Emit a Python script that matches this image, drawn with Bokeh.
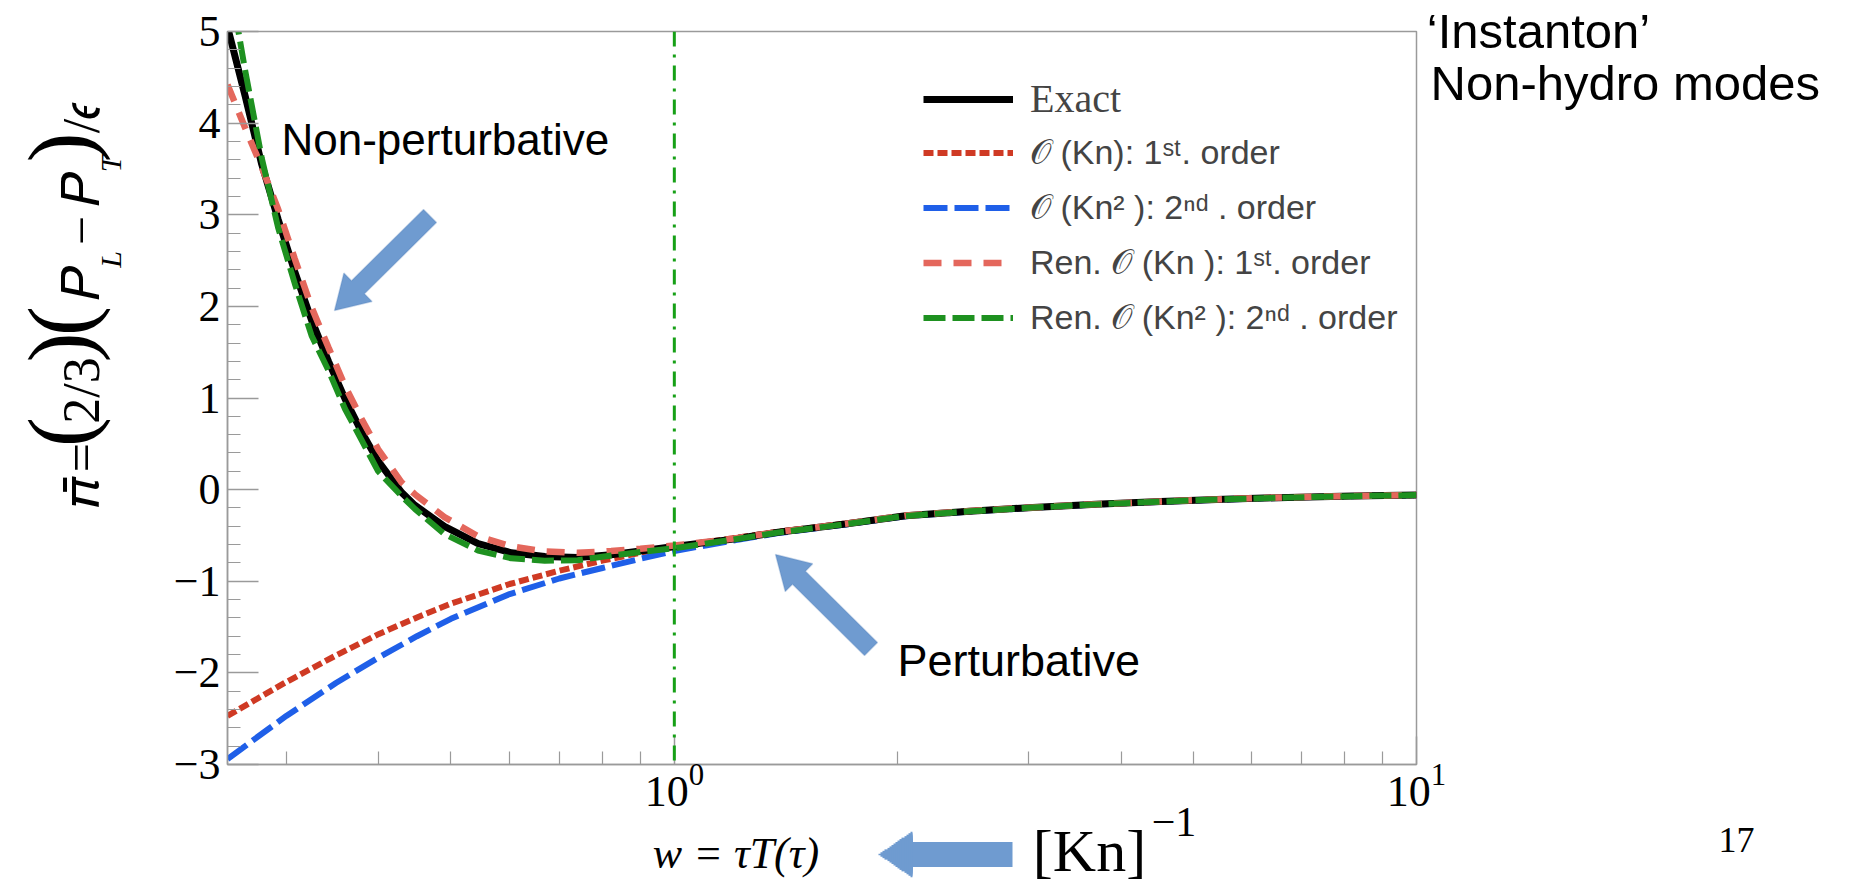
import math
from bokeh.plotting import figure
from bokeh.models import (Range1d, FixedTicker, Span, Label, Legend, LegendItem,
                          PolyAnnotation, LinearAxis, LinearScale)
from bokeh.embed import file_html
from bokeh.resources import INLINE

# ---------------- data ----------------
exact_w = [0.25, 0.264, 0.278, 0.2925, 0.308, 0.3245, 0.342, 0.36, 0.379, 0.399,
           0.429, 0.447, 0.49, 0.544, 0.603, 0.669, 0.741, 0.822, 0.9, 1.0,
           1.2, 1.38, 1.7, 2.05, 2.5, 3.04, 3.7, 4.52, 5.5, 6.71, 8.2, 10.0]
exact_pi = [5.05, 4.30, 3.55, 2.95, 2.38, 1.85, 1.40, 0.99, 0.63, 0.31,
            -0.03, -0.17, -0.40, -0.59, -0.69, -0.73, -0.74, -0.71, -0.67, -0.62,
            -0.54, -0.465, -0.375, -0.285, -0.235, -0.195, -0.16, -0.13, -0.105, -0.085, -0.07, -0.06]

first_w = [0.25, 0.3, 0.35, 0.4, 0.45, 0.5, 0.6, 0.7, 0.8, 0.9, 1.0,
           1.2, 1.38, 1.7, 2.05, 2.5, 3.04, 3.7, 4.52, 5.5, 6.71, 8.2, 10.0]
first_pi = [-2.47, -2.10, -1.81, -1.575, -1.395, -1.245, -1.03, -0.885, -0.775, -0.69, -0.625,
            -0.53, -0.46, -0.37, -0.285, -0.235, -0.195, -0.16, -0.13, -0.105, -0.085, -0.07, -0.06]

second_w = [0.25, 0.3, 0.35, 0.4, 0.45, 0.5, 0.6, 0.7, 0.8, 0.9, 1.0,
            1.2, 1.38, 1.7, 2.05, 2.5, 3.04, 3.7, 4.52, 5.5, 6.71, 8.2, 10.0]
second_pi = [-2.94, -2.47, -2.11, -1.83, -1.60, -1.41, -1.14, -0.97, -0.855, -0.755, -0.67,
             -0.555, -0.475, -0.38, -0.29, -0.24, -0.198, -0.163, -0.133, -0.108, -0.087, -0.072, -0.061]

ren1_w = [0.25, 0.264, 0.278, 0.2925, 0.308, 0.3245, 0.342, 0.36, 0.379, 0.399,
          0.429, 0.447, 0.49, 0.544, 0.603, 0.669, 0.741, 0.822, 0.9, 1.0,
          1.2, 1.38, 1.7, 2.05, 2.5, 3.04, 3.7, 4.52, 5.5, 6.71, 8.2, 10.0]
ren1_pi = [4.42, 3.95, 3.52, 3.06, 2.52, 1.99, 1.55, 1.13, 0.77, 0.44,
           0.08, -0.05, -0.30, -0.51, -0.62, -0.675, -0.69, -0.67, -0.645, -0.61,
           -0.535, -0.462, -0.372, -0.283, -0.234, -0.194, -0.159, -0.129, -0.104, -0.084, -0.069, -0.059]

ren2_w = [0.255, 0.2586, 0.264, 0.278, 0.2925, 0.308, 0.3245, 0.342, 0.36, 0.379, 0.399,
          0.429, 0.447, 0.49, 0.544, 0.603, 0.669, 0.741, 0.822, 0.9, 1.0,
          1.2, 1.38, 1.7, 2.05, 2.5, 3.04, 3.7, 4.52, 5.5, 6.71, 8.2, 10.0]
ren2_pi = [5.2, 5.0, 4.58, 3.62, 2.86, 2.25, 1.68, 1.30, 0.88, 0.54, 0.20,
           -0.07, -0.21, -0.485, -0.665, -0.75, -0.775, -0.77, -0.72, -0.68, -0.64,
           -0.545, -0.468, -0.377, -0.287, -0.237, -0.196, -0.161, -0.131, -0.106, -0.086, -0.071, -0.06]

legend_labels = ["Exact",
                 "𝒪 (Kn): 1ˢᵗ. order",
                 "𝒪 (Kn² ): 2ⁿᵈ . order",
                 "Ren. 𝒪 (Kn ): 1ˢᵗ. order",
                 "Ren. 𝒪 (Kn² ): 2ⁿᵈ . order"]

x_major = [1, 10]
x_minor = [0.3, 0.4, 0.5, 0.6, 0.7, 0.8, 0.9, 2, 3, 4, 5, 6, 7, 8, 9]
y_major = [-3, -2, -1, 0, 1, 2, 3, 4, 5]
y_minor = [round(i * 0.2, 1) for i in range(-15, 26) if i % 5 != 0]
y_labels = {v: ("−%d" % -v if v < 0 else "%d" % v) for v in y_major}

# ---------------- layout ----------------
W, H = 1855, 886
FL, FR, FT, FB = 227, 1416, 29, 762
GRAY = "#9a9a9a"
ARROW_FILL = "#6f9bd0"
NB = "\u00a0"

p = figure(frame_width=FR - FL, frame_height=FB - FT, x_axis_type="log",
           x_range=Range1d(0.25, 10), y_range=Range1d(-3, 5),
           output_backend="svg", toolbar_location=None,
           min_border_left=FL, min_border_right=W - FR,
           min_border_top=FT, min_border_bottom=H - FB)
p.xgrid.visible = False
p.ygrid.visible = False
p.outline_line_color = GRAY
p.outline_line_width = 1.5
p.background_fill_color = "white"
p.border_fill_color = "white"
# pixel-like helper ranges used to place the texts that sit outside the frame
p.extra_x_ranges = {"cx": Range1d(FL, FR)}
p.extra_y_ranges = {"cy": Range1d(FB, FT)}
p.extra_x_scales = {"cx": LinearScale()}
p.extra_y_scales = {"cy": LinearScale()}

xa = p.xaxis[0]
xa.ticker = FixedTicker(ticks=x_major, minor_ticks=x_minor)
ya = p.yaxis[0]
ya.ticker = FixedTicker(ticks=y_major, minor_ticks=y_minor)
ya.major_label_overrides = y_labels
for ax, mj in ((xa, 28), (ya, 31)):
    ax.axis_line_color = GRAY
    ax.axis_line_width = 1.5
    ax.major_tick_line_color = GRAY
    ax.minor_tick_line_color = GRAY
    ax.major_tick_line_width = 1.5
    ax.minor_tick_line_width = 1.2
    ax.major_tick_in = mj
    ax.major_tick_out = 0
    ax.minor_tick_in = 13
    ax.minor_tick_out = 0
    ax.major_label_text_font = "Liberation Serif"
    ax.major_label_text_font_size = "44px"
    ax.major_label_text_color = "black"
xa.major_label_standoff = 0
ya.major_label_standoff = 7

# ---------------- curves ----------------
r1 = p.line(first_w, first_pi, line_color="#cf3a24", line_width=6, line_dash="10 4")
r2 = p.line(second_w, second_pi, line_color="#1f5fe8", line_width=6, line_dash="24 7")
r0 = p.line(exact_w, exact_pi, line_color="black", line_width=7)
r3 = p.line(ren1_w, ren1_pi, line_color="#e4675c", line_width=6.5, line_dash="18 12")
r4 = p.line(ren2_w, ren2_pi, line_color="#1e9120", line_width=6, line_dash="22 7")

p.add_layout(Span(location=1, dimension="height", line_color="#16a016",
                  line_width=3, line_dash="15 8 3 8"))

# ---------------- legends ----------------
legA = Legend(items=[LegendItem(label=legend_labels[0], renderers=[r0])],
              location=(923 - FL, FB - 120), glyph_width=90, glyph_height=46,
              label_height=46, label_standoff=17, padding=0, margin=0, spacing=14,
              border_line_alpha=0, background_fill_alpha=0,
              label_text_font="Liberation Serif", label_text_font_size="40px")
legB = Legend(items=[LegendItem(label=legend_labels[i + 1], renderers=[r])
                     for i, r in enumerate([r1, r2, r3, r4])],
              location=(923 - FL, FB - 336), glyph_width=90, glyph_height=41,
              label_height=41, label_standoff=17, padding=0, margin=0, spacing=14,
              border_line_alpha=0, background_fill_alpha=0,
              label_text_font="Liberation Sans", label_text_font_size="34px")
p.add_layout(legA)
p.add_layout(legB)


# ---------------- texts inside the frame (positioned by their vertical centre) ----------------
def lab(text, X, Yc, size, font="Liberation Sans", style="normal"):
    p.add_layout(Label(x=X - FL, y=FB - Yc, x_units="screen", y_units="screen",
                       text=text, text_font=font, text_font_size="%dpx" % size,
                       text_font_style=style, text_color="black",
                       text_align="left", text_baseline="middle"))


lab("Non-perturbative", 281, 137, 44)
lab("Perturbative", 897, 658, 45)


# ---------------- texts outside the frame: carried by stacked side axes ----------------
def text_axis(side, ticks, texts, size, standoff, font="Liberation Serif", style="normal",
              color="black", orientation="horizontal", line_height=1.2,
              axis_label=None, al_size=10, al_standoff=0):
    kw = {}
    if axis_label is not None:
        kw = dict(axis_label=axis_label, axis_label_text_font_size="%dpx" % al_size,
                  axis_label_standoff=al_standoff, axis_label_text_color="white")
    ax = LinearAxis(x_range_name="cx", y_range_name="cy",
                    ticker=FixedTicker(ticks=list(ticks), minor_ticks=[]),
                    major_label_overrides=dict(zip(ticks, texts)),
                    major_label_orientation=orientation,
                    major_label_standoff=int(round(standoff)),
                    major_label_text_font=font, major_label_text_font_size="%dpx" % size,
                    major_label_text_font_style=style, major_label_text_color=color,
                    major_label_text_line_height=line_height,
                    axis_line_color=None, major_tick_line_color=None,
                    minor_tick_line_color=None,
                    major_tick_in=0, major_tick_out=0, minor_tick_in=0, minor_tick_out=0,
                    **kw)
    p.add_layout(ax, side)
    return ax


def rule_axis(side, start, end, width):
    ax = LinearAxis(x_range_name="cx", y_range_name="cy", bounds=(start, end),
                    ticker=FixedTicker(ticks=[], minor_ticks=[]),
                    axis_line_color=ARROW_FILL, axis_line_width=width,
                    major_tick_line_color=None, minor_tick_line_color=None,
                    major_tick_in=0, major_tick_out=0, minor_tick_in=0, minor_tick_out=0)
    p.add_layout(ax, side)


# --- below the frame (stacked in this order) ---
text_axis("below", [1173.5], ["−1"], 42, -1, axis_label=NB, al_size=10, al_standoff=2)
rule_axis("below", 911, 1012, 25)                      # arrow shaft
for k in range(16):                                    # arrow head, as stacked rules
    x0 = 878 + 34.0 * k / 16
    rule_axis("below", x0, 912, 47.0 * (k + 0.5) / 16)
text_axis("below", [735.5], ["w = τT(τ)"], 44, -26, style="italic")
text_axis("below", [1089], ["[Kn]"], 60, -63)

# --- left of the frame: y title  pi = (2/3) (P_L - P_T) / eps ---
text_axis("left", [257, 161.5], ["L", "T"], 30, 44, style="italic", orientation="vertical")
text_axis("left", [489, 455, 388, 280.5, 228, 186, 115],
          ["𝜋\u0304", "=", "2/3", "𝑃", "−", "𝑃", "/𝜖"], 52, -19, orientation="vertical")
text_axis("left", [429.5, 345, 318.5, 145], ["(", ")", "(", ")"], 90, -60, orientation="vertical")

# --- right of the frame ---
text_axis("right", [761.5], ["\n".join([NB] * 3 + ["17"])], 36, 302, line_height=1.26)
text_axis("right", [80], ["Non-hydro modes"], 49, -327, font="Liberation Sans")

# --- above the frame ---
text_axis("above", [1415.5], [NB * 18 + "‘Instanton’"], 49, -26, font="Liberation Sans")


# ---------------- block arrows inside the frame ----------------
def block_arrow(tail, tip, w1, w2, hl):
    tx, ty = tail
    px, py = tip
    L = math.hypot(px - tx, py - ty)
    ux, uy = (px - tx) / L, (py - ty) / L
    nx, ny = -uy, ux
    bx, by = px - ux * hl, py - uy * hl
    pts = [(tx + nx * w1, ty + ny * w1), (bx + nx * w1, by + ny * w1),
           (bx + nx * w2, by + ny * w2), (px, py),
           (bx - nx * w2, by - ny * w2), (bx - nx * w1, by - ny * w1),
           (tx - nx * w1, ty - ny * w1)]
    p.add_layout(PolyAnnotation(xs=[x - FL for x, _ in pts], ys=[FB - y for _, y in pts],
                                xs_units="screen", ys_units="screen",
                                fill_color=ARROW_FILL, fill_alpha=1.0,
                                line_color="#4f7db8", line_width=1.5))


block_arrow((429.5, 213.5), (334, 308), 9.2, 20, 33)
block_arrow((870.5, 646.5), (775, 552), 9.2, 19.5, 33)

open("out.html", "w").write(file_html(p, INLINE))
